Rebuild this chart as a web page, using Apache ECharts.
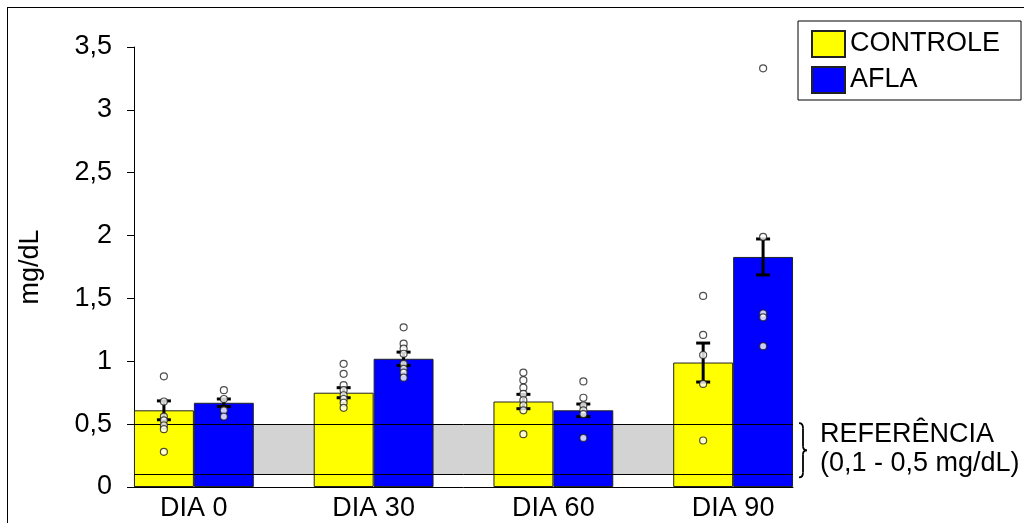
<!DOCTYPE html>
<html>
<head>
<meta charset="utf-8">
<script src="https://cdn.jsdelivr.net/npm/echarts@6/dist/echarts.min.js"></script>
<style>
  html, body { margin: 0; padding: 0; background: #fff; overflow: hidden; }
  #wrap { position: relative; width: 1024px; height: 523px; }
  #chart { position: absolute; left: 0; top: 0; width: 1024px; height: 523px; }
  #frame { position: absolute; left: 7px; top: 7px; width: 2000px; height: 2000px;
           border-left: 1px solid #000; border-top: 1px solid #000; pointer-events: none; }
</style>
</head>
<body>
<div id="wrap"><div id="chart"></div><div id="frame"></div></div>
<script>
// ---- data ----
const categories = ['DIA 0', 'DIA 30', 'DIA 60', 'DIA 90'];
const seriesNames = ['CONTROLE', 'AFLA'];
const controleMean = [0.61, 0.75, 0.68, 0.99];
const aflaMean = [0.67, 1.02, 0.61, 1.83];
const controleErr = [0.075, 0.04, 0.057, 0.155];
const aflaErr = [0.03, 0.053, 0.05, 0.143];
const controlePoints = [
  [0.88, 0.68, 0.56, 0.53, 0.49, 0.46, 0.28],
  [0.98, 0.90, 0.81, 0.77, 0.73, 0.70, 0.67, 0.63],
  [0.91, 0.85, 0.79, 0.74, 0.69, 0.65, 0.61, 0.42],
  [1.52, 1.21, 1.05, 0.82, 0.37]
];
const aflaPoints = [
  [0.77, 0.70, 0.61, 0.56],
  [1.27, 1.14, 1.10, 1.06, 0.98, 0.94, 0.91, 0.87],
  [0.84, 0.71, 0.65, 0.61, 0.58, 0.39],
  [3.33, 1.99, 1.38, 1.35, 1.12]
];
const refRange = [0.1, 0.5];
const refLabel = ['REFERÊNCIA', '(0,1 - 0,5 mg/dL)'];
const yMin = 0, yMax = 3.5, yStep = 0.5;
const yName = 'mg/dL';

// ---- chart ----
const FONT = 'Liberation Sans, Arial, sans-serif';
const FS = 27;
const chart = echarts.init(document.getElementById('chart'), null, { renderer: 'canvas' });

function pts(arr) {
  const out = [];
  arr.forEach((vals, i) => vals.forEach(v => out.push([i, v])));
  return out;
}
function errData(means, errs) {
  return means.map((m, i) => [i, m, errs[i]]);
}
function errRender(side) {
  return function (params, api) {
    const i = api.value(0), m = api.value(1), e = api.value(2);
    const band = api.size([1, 0])[0];
    const off = side * band / 6;
    const top = api.coord([i, m + e]);
    const bot = api.coord([i, m - e]);
    const x = top[0] + off;
    const cap = 7;
    const st = { stroke: '#000', lineWidth: 3 };
    return {
      type: 'group',
      children: [
        { type: 'line', shape: { x1: x, y1: top[1], x2: x, y2: bot[1] }, style: st },
        { type: 'line', shape: { x1: x - cap, y1: top[1], x2: x + cap, y2: top[1] }, style: st },
        { type: 'line', shape: { x1: x - cap, y1: bot[1], x2: x + cap, y2: bot[1] }, style: st }
      ]
    };
  };
}
function braceRender(params, api) {
  const pT = api.coord([api.value(0), api.value(2)]);
  const pB = api.coord([api.value(0), api.value(1)]);
  const x0 = pT[0] + 6, yT = pT[1] - 1, yB = pB[1] + 3, yM = (yT + yB) / 2;
  const st = { stroke: '#000', lineWidth: 1.8, fill: null };
  return {
    type: 'group',
    children: [
      { type: 'bezierCurve', shape: { x1: x0, y1: yT, x2: x0 + 4, y2: yT + 5, cpx1: x0 + 4, cpy1: yT }, style: st },
      { type: 'line', shape: { x1: x0 + 4, y1: yT + 5, x2: x0 + 4, y2: yM - 4 }, style: st },
      { type: 'bezierCurve', shape: { x1: x0 + 4, y1: yM - 4, x2: x0 + 8, y2: yM, cpx1: x0 + 4, cpy1: yM }, style: st },
      { type: 'bezierCurve', shape: { x1: x0 + 8, y1: yM, x2: x0 + 4, y2: yM + 4, cpx1: x0 + 4, cpy1: yM }, style: st },
      { type: 'line', shape: { x1: x0 + 4, y1: yM + 4, x2: x0 + 4, y2: yB - 5 }, style: st },
      { type: 'bezierCurve', shape: { x1: x0 + 4, y1: yB - 5, x2: x0, y2: yB, cpx1: x0 + 4, cpy1: yB }, style: st }
    ]
  };
}

const option = {
  backgroundColor: '#fff',
  animation: false,
  textStyle: { fontFamily: FONT },
  grid: [
    { left: 134, width: 659, top: 47, height: 440, containLabel: false },
    { left: 104, width: 719, top: 47, height: 440, containLabel: false }
  ],
  xAxis: [
    { type: 'value', gridIndex: 0, min: 0, max: 1,
      axisLine: { show: true, lineStyle: { color: '#000', width: 1 } },
      axisTick: { show: false }, axisLabel: { show: false }, splitLine: { show: false } },
    { type: 'category', gridIndex: 1, data: categories,
      axisLine: { show: false }, axisTick: { show: false }, splitLine: { show: false },
      axisLabel: { color: '#000', fontSize: FS, fontFamily: FONT, margin: 8 } }
  ],
  yAxis: [
    { type: 'value', gridIndex: 0, min: yMin, max: yMax, interval: yStep,
      name: yName, nameLocation: 'middle', nameGap: 90, nameRotate: 90,
      nameTextStyle: { color: '#000', fontSize: FS, fontFamily: FONT },
      axisLine: { show: true, lineStyle: { color: '#000', width: 1 } },
      axisTick: { show: true, inside: false, length: 7, lineStyle: { color: '#000' } },
      axisLabel: { color: '#000', fontSize: FS, fontFamily: FONT, margin: 22,
        formatter: v => String(v).replace('.', ',') },
      splitLine: { show: false } },
    { type: 'value', gridIndex: 1, min: yMin, max: yMax, interval: yStep, show: false }
  ],
  legend: {
    data: seriesNames,
    orient: 'vertical',
    left: 798, top: 21,
    padding: [9, 21, 6, 13],
    itemGap: 8,
    itemWidth: 33, itemHeight: 26,
    icon: 'rect',
    backgroundColor: '#fff',
    borderColor: '#000', borderWidth: 1,
    textStyle: { color: '#000', fontSize: FS, fontFamily: FONT }
  },
  series: [
    { name: 'ref-band', type: 'line', xAxisIndex: 0, yAxisIndex: 0, data: [], z: 1,
      markArea: { silent: true, z: 1,
        itemStyle: { color: '#d3d3d3' },
        label: { show: true, position: 'right', distance: 27, color: '#000',
          fontSize: FS, fontFamily: FONT, lineHeight: 29, align: 'left',
          formatter: refLabel.join('\n') },
        data: [[{ yAxis: refRange[0] }, { yAxis: refRange[1] }]] } },
    { name: seriesNames[0], type: 'bar', xAxisIndex: 1, yAxisIndex: 1, data: controleMean,
      barGap: '0%', barCategoryGap: '33.333%', z: 2,
      itemStyle: { color: '#FFFF00', borderColor: '#222', borderWidth: 1 } },
    { name: seriesNames[1], type: 'bar', xAxisIndex: 1, yAxisIndex: 1, data: aflaMean,
      barGap: '0%', barCategoryGap: '33.333%', z: 2,
      itemStyle: { color: '#0000FF', borderColor: '#222', borderWidth: 1 } },
    { name: 'ref-lines', type: 'line', xAxisIndex: 0, yAxisIndex: 0, data: [], z: 3,
      markLine: { silent: true, z: 3, symbol: 'none', label: { show: false },
        lineStyle: { color: '#000', width: 1, type: 'solid' },
        data: [{ yAxis: refRange[0] }, { yAxis: refRange[1] }] } },
    { name: 'brace', type: 'custom', xAxisIndex: 0, yAxisIndex: 0, z: 6, clip: false,
      renderItem: braceRender, data: [[1, refRange[0], refRange[1]]] },
    { name: 'err-c', type: 'custom', xAxisIndex: 1, yAxisIndex: 1, z: 4,
      renderItem: errRender(-1), data: errData(controleMean, controleErr) },
    { name: 'err-a', type: 'custom', xAxisIndex: 1, yAxisIndex: 1, z: 4,
      renderItem: errRender(1), data: errData(aflaMean, aflaErr) },
    { name: 'pts-c', type: 'scatter', xAxisIndex: 1, yAxisIndex: 1, z: 5,
      symbol: 'circle', symbolSize: 7, symbolOffset: [-30, 0],
      itemStyle: { color: '#fff', borderColor: '#222', borderWidth: 1.2 },
      data: pts(controlePoints) },
    { name: 'pts-a', type: 'scatter', xAxisIndex: 1, yAxisIndex: 1, z: 5,
      symbol: 'circle', symbolSize: 7, symbolOffset: [30, 0],
      itemStyle: { color: '#fff', borderColor: '#222', borderWidth: 1.2 },
      data: pts(aflaPoints) }
  ]
};
chart.setOption(option);
</script>
</body>
</html>
